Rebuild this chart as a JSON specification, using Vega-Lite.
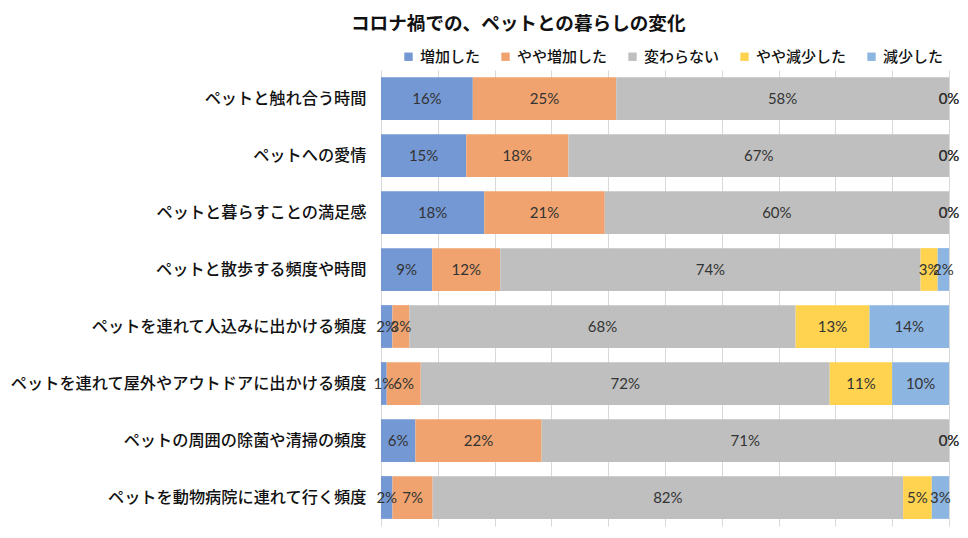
{
  "$schema": "https://vega.github.io/schema/vega-lite/v6.json",
  "autosize": "none",
  "width": 568,
  "height": 456,
  "padding": {"left": 381, "top": 70, "right": 19, "bottom": 12},
  "background": "white",
  "config": {
    "font": "Noto Sans CJK JP",
    "view": {"stroke": null}
  },
  "title": {
    "text": "コロナ禍での、ペットとの暮らしの変化",
    "anchor": "start",
    "frame": "group",
    "dx": -30,
    "fontSize": 18.6,
    "fontWeight": "bold",
    "color": "#111111",
    "offset": 15,
    "font": "Noto Sans CJK JP"
  },
  "data": {
    "values": [
      {"item": "ペットと触れ合う時間", "cat": "増加した", "ord": 1, "v": 16, "label": "16%"},
      {"item": "ペットと触れ合う時間", "cat": "やや増加した", "ord": 2, "v": 25, "label": "25%"},
      {"item": "ペットと触れ合う時間", "cat": "変わらない", "ord": 3, "v": 58, "label": "58%"},
      {"item": "ペットと触れ合う時間", "cat": "やや減少した", "ord": 4, "v": 0, "label": "0%"},
      {"item": "ペットと触れ合う時間", "cat": "減少した", "ord": 5, "v": 0, "label": "0%"},
      {"item": "ペットへの愛情", "cat": "増加した", "ord": 1, "v": 15, "label": "15%"},
      {"item": "ペットへの愛情", "cat": "やや増加した", "ord": 2, "v": 18, "label": "18%"},
      {"item": "ペットへの愛情", "cat": "変わらない", "ord": 3, "v": 67, "label": "67%"},
      {"item": "ペットへの愛情", "cat": "やや減少した", "ord": 4, "v": 0, "label": "0%"},
      {"item": "ペットへの愛情", "cat": "減少した", "ord": 5, "v": 0, "label": "0%"},
      {"item": "ペットと暮らすことの満足感", "cat": "増加した", "ord": 1, "v": 18, "label": "18%"},
      {"item": "ペットと暮らすことの満足感", "cat": "やや増加した", "ord": 2, "v": 21, "label": "21%"},
      {"item": "ペットと暮らすことの満足感", "cat": "変わらない", "ord": 3, "v": 60, "label": "60%"},
      {"item": "ペットと暮らすことの満足感", "cat": "やや減少した", "ord": 4, "v": 0, "label": "0%"},
      {"item": "ペットと暮らすことの満足感", "cat": "減少した", "ord": 5, "v": 0, "label": "0%"},
      {"item": "ペットと散歩する頻度や時間", "cat": "増加した", "ord": 1, "v": 9, "label": "9%"},
      {"item": "ペットと散歩する頻度や時間", "cat": "やや増加した", "ord": 2, "v": 12, "label": "12%"},
      {"item": "ペットと散歩する頻度や時間", "cat": "変わらない", "ord": 3, "v": 74, "label": "74%"},
      {"item": "ペットと散歩する頻度や時間", "cat": "やや減少した", "ord": 4, "v": 3, "label": "3%"},
      {"item": "ペットと散歩する頻度や時間", "cat": "減少した", "ord": 5, "v": 2, "label": "2%"},
      {"item": "ペットを連れて人込みに出かける頻度", "cat": "増加した", "ord": 1, "v": 2, "label": "2%"},
      {"item": "ペットを連れて人込みに出かける頻度", "cat": "やや増加した", "ord": 2, "v": 3, "label": "3%"},
      {"item": "ペットを連れて人込みに出かける頻度", "cat": "変わらない", "ord": 3, "v": 68, "label": "68%"},
      {"item": "ペットを連れて人込みに出かける頻度", "cat": "やや減少した", "ord": 4, "v": 13, "label": "13%"},
      {"item": "ペットを連れて人込みに出かける頻度", "cat": "減少した", "ord": 5, "v": 14, "label": "14%"},
      {"item": "ペットを連れて屋外やアウトドアに出かける頻度", "cat": "増加した", "ord": 1, "v": 1, "label": "1%"},
      {"item": "ペットを連れて屋外やアウトドアに出かける頻度", "cat": "やや増加した", "ord": 2, "v": 6, "label": "6%"},
      {"item": "ペットを連れて屋外やアウトドアに出かける頻度", "cat": "変わらない", "ord": 3, "v": 72, "label": "72%"},
      {"item": "ペットを連れて屋外やアウトドアに出かける頻度", "cat": "やや減少した", "ord": 4, "v": 11, "label": "11%"},
      {"item": "ペットを連れて屋外やアウトドアに出かける頻度", "cat": "減少した", "ord": 5, "v": 10, "label": "10%"},
      {"item": "ペットの周囲の除菌や清掃の頻度", "cat": "増加した", "ord": 1, "v": 6, "label": "6%"},
      {"item": "ペットの周囲の除菌や清掃の頻度", "cat": "やや増加した", "ord": 2, "v": 22, "label": "22%"},
      {"item": "ペットの周囲の除菌や清掃の頻度", "cat": "変わらない", "ord": 3, "v": 71, "label": "71%"},
      {"item": "ペットの周囲の除菌や清掃の頻度", "cat": "やや減少した", "ord": 4, "v": 0, "label": "0%"},
      {"item": "ペットの周囲の除菌や清掃の頻度", "cat": "減少した", "ord": 5, "v": 0, "label": "0%"},
      {"item": "ペットを動物病院に連れて行く頻度", "cat": "増加した", "ord": 1, "v": 2, "label": "2%"},
      {"item": "ペットを動物病院に連れて行く頻度", "cat": "やや増加した", "ord": 2, "v": 7, "label": "7%"},
      {"item": "ペットを動物病院に連れて行く頻度", "cat": "変わらない", "ord": 3, "v": 82, "label": "82%"},
      {"item": "ペットを動物病院に連れて行く頻度", "cat": "やや減少した", "ord": 4, "v": 5, "label": "5%"},
      {"item": "ペットを動物病院に連れて行く頻度", "cat": "減少した", "ord": 5, "v": 3, "label": "3%"}
    ]
  },
  "encoding": {
    "y": {
      "field": "item",
      "type": "nominal",
      "sort": null,
      "scale": {"paddingInner": 0.25, "paddingOuter": 0.125},
      "axis": {
        "title": null,
        "ticks": false,
        "domain": false,
        "labelFontSize": 16.2,
        "labelColor": "#111111",
        "labelFontWeight": 500,
        "labelPadding": 15,
        "labelLimit": 400
      }
    }
  },
  "layer": [
    {
      "mark": {"type": "bar"},
      "encoding": {
        "x": {
          "field": "v",
          "type": "quantitative",
          "stack": "normalize",
          "scale": {"domain": [0, 1], "nice": false},
          "axis": {
            "title": null,
            "labels": false,
            "ticks": false,
            "domain": false,
            "grid": true,
            "gridColor": "#d9d9d9",
            "gridWidth": 1,
            "values": [0, 0.1, 0.2, 0.3, 0.4, 0.5, 0.6, 0.7, 0.8, 0.9, 1]
          }
        },
        "color": {
          "field": "cat",
          "type": "nominal",
          "scale": {
            "domain": ["増加した", "やや増加した", "変わらない", "やや減少した", "減少した"],
            "range": ["#7498D4", "#F0A36E", "#BFBFBF", "#FFD34F", "#8DB5E1"]
          },
          "legend": {
            "title": null,
            "orient": "none",
            "direction": "horizontal",
            "legendX": 20,
            "legendY": -21,
            "symbolType": "square",
            "symbolSize": 70,
            "symbolStrokeWidth": 0,
            "labelFontSize": 15,
            "labelColor": "#111111",
            "labelFontWeight": 500,
            "labelOffset": 4,
            "columnPadding": 17
          }
        },
        "order": {"field": "ord", "type": "quantitative"}
      }
    },
    {
      "mark": {"type": "text", "fontSize": 15, "font": "Lato", "color": "#333333", "align": "center", "baseline": "middle"},
      "encoding": {
        "x": {
          "field": "v",
          "type": "quantitative",
          "stack": "normalize",
          "bandPosition": 0.5
        },
        "text": {"field": "label"},
        "order": {"field": "ord", "type": "quantitative"}
      }
    }
  ]
}
